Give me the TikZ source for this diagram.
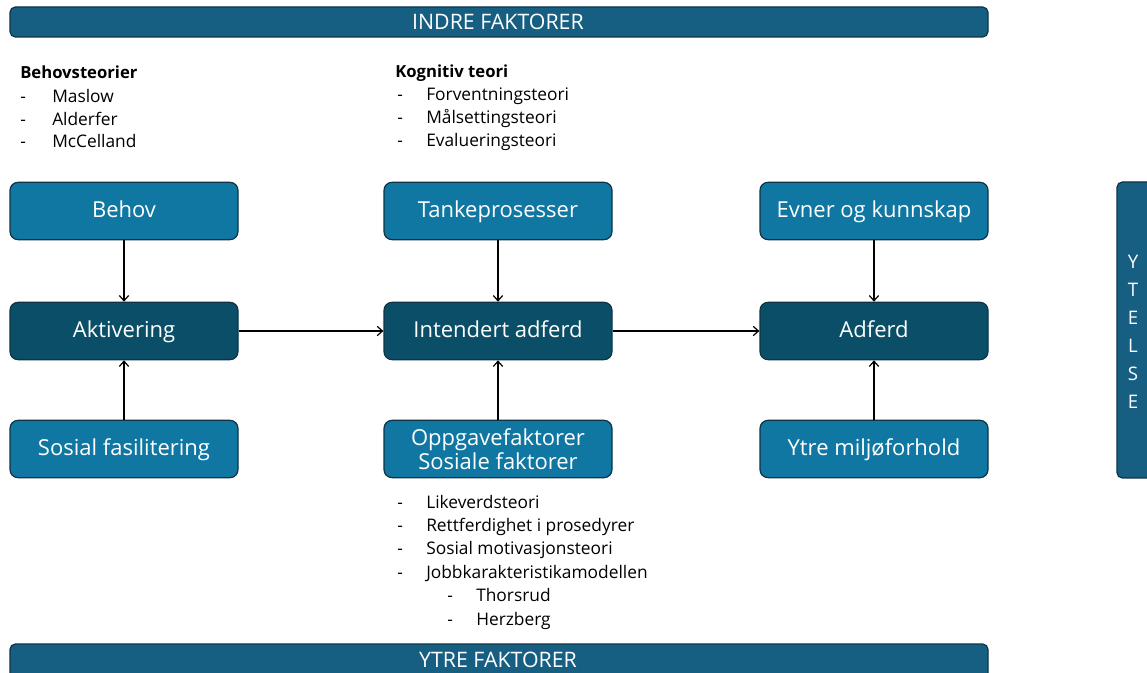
\documentclass[tikz,border=0pt]{standalone}
\usepackage{fontspec}
\setmainfont{Open Sans}
\usetikzlibrary{calc, positioning}

\definecolor{boxlight}{HTML}{0F77A1}
\definecolor{boxdark}{HTML}{0A4F67}
\definecolor{barblue}{HTML}{175F82}
\definecolor{edgeblue}{HTML}{0D3345}

\tikzset{
  factorbox/.style={draw=edgeblue, line width=0.9pt, rounded corners=6pt, fill=boxlight,
    minimum width=171pt, minimum height=43pt, text=white, font=\fontsize{16.5}{19}\selectfont,
    align=center, inner sep=0pt, text height=1.05em, text depth=0em},
  corebox/.style={factorbox, fill=boxdark},
  barbox/.style={draw=edgeblue, line width=0.9pt, rounded corners=4pt, fill=barblue},
  bartext/.style={text=white, font=\fontsize{16}{19}\selectfont},
  listtext/.style={anchor=base west, inner sep=0pt, font=\fontsize{13}{15}\selectfont},
  flow/.style={->, line width=0.9pt, >={Straight Barb[length=4pt, width=7pt]}}
}
\usetikzlibrary{arrows.meta}

\begin{document}
\begin{tikzpicture}[x=0.75pt, y=-0.75pt]
  \useasboundingbox (0,0) rectangle (1147,673);
  \clip (0,0) rectangle (1147,673);

  % Bars for inner, outer factors and performance
  \draw[barbox] (10,7) rectangle (988,37);
  \node[bartext] (indre) at (498,22) {INDRE FAKTORER};
  \draw[barbox] (10,644) rectangle (988,690);
  \node[bartext] (ytre) at (498,660) {YTRE FAKTORER};
  \draw[barbox] (1117,182) rectangle (1170,478);
  \node[bartext, align=center, font=\fontsize{14}{21}\selectfont] (ytelse) at (1133,332)
    {Y\\T\\E\\L\\S\\E};

  % Top row
  \node[factorbox] (behov) at (124,211) {Behov};
  \node[factorbox] (tanke) at (498,211) {Tankeprosesser};
  \node[factorbox] (evner) at (874,211) {Evner og kunnskap};

  % Middle row
  \node[corebox] (aktivering) at (124,331) {Aktivering};
  \node[corebox] (intendert) at (498,331) {Intendert adferd};
  \node[corebox] (adferd) at (874,331) {Adferd};

  % Bottom row
  \node[factorbox] (sosial) at (124,449) {Sosial fasilitering};
  \node[factorbox, text height=, text depth=, font=\fontsize{16.5}{18}\selectfont] (oppgave) at (498,449)
    {Oppgavefaktorer\\Sosiale faktorer};
  \node[factorbox] (ytremiljo) at (874,449) {Ytre miljøforhold};

  % Arrows
  \draw[flow] (behov) -- (aktivering);
  \draw[flow] (tanke) -- (intendert);
  \draw[flow] (evner) -- (adferd);
  \draw[flow] (sosial) -- (aktivering);
  \draw[flow] (oppgave) -- (intendert);
  \draw[flow] (ytremiljo) -- (adferd);
  \draw[flow] (aktivering) -- (intendert);
  \draw[flow] (intendert) -- (adferd);

  % Theory lists
  \node[listtext, font=\fontsize{12.5}{15}\selectfont\bfseries] (behovhead) at (20,79) {Behovsteorier};
  \foreach \y/\name/\txt in {103/maslow/Maslow, 126/alderfer/Alderfer, 148/mccelland/McCelland} {
    \node[listtext] (\name dash) at (20,\y) {-};
    \node[listtext] (\name) at (52,\y) {\txt};
  }

  \node[listtext, font=\fontsize{12.5}{15}\selectfont\bfseries] (kognhead) at (395,78) {Kognitiv teori};
  \foreach \y/\name/\txt in {101/forv/Forventningsteori, 124/maal/Målsettingsteori, 147/eval/Evalueringsteori} {
    \node[listtext] (\name dash) at (397,\y) {-};
    \node[listtext] (\name) at (426,\y) {\txt};
  }

  \foreach \y/\name/\txt in {509/likeverd/Likeverdsteori, 532/rett/Rettferdighet i prosedyrer,
      555/sosmot/Sosial motivasjonsteori, 579/jobb/Jobbkarakteristikamodellen} {
    \node[listtext] (\name dash) at (397,\y) {-};
    \node[listtext] (\name) at (426,\y) {\txt};
  }
  \foreach \y/\name/\txt in {602/thorsrud/Thorsrud, 625/herzberg/Herzberg} {
    \node[listtext] (\name dash) at (447,\y) {-};
    \node[listtext] (\name) at (476,\y) {\txt};
  }
\end{tikzpicture}
\end{document}
